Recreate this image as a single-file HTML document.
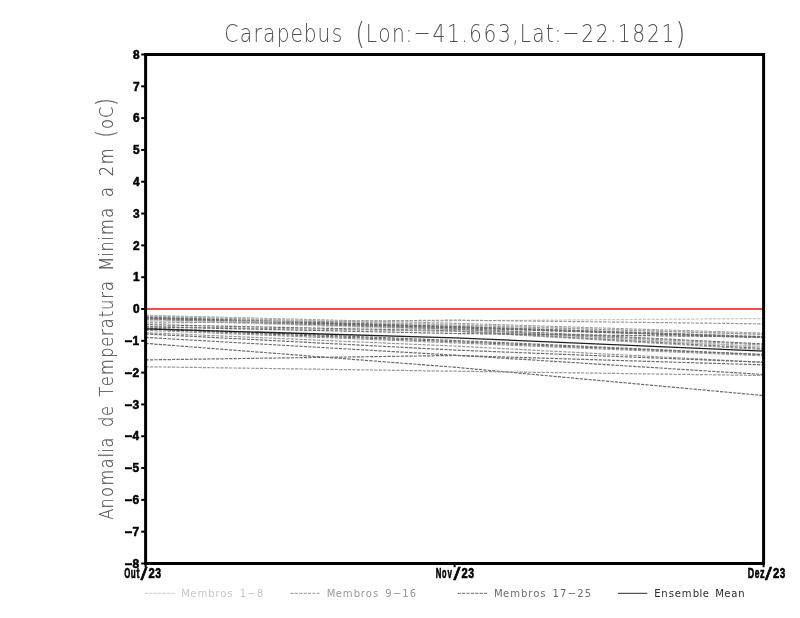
<!DOCTYPE html>
<html lang="pt"><head><meta charset="utf-8"><title>Carapebus</title>
<style>html,body{margin:0;padding:0;background:#fff;}svg{display:block;will-change:transform;}text{white-space:pre;}</style>
</head><body>
<svg width="800" height="618" viewBox="0 0 800 618">
<rect width="800" height="618" fill="#ffffff"/>
<g fill="none" stroke-width="1.2" stroke-dasharray="3.2 1.2">
<polyline stroke="#989898" points="145.6,315.36 454.6,323.32 763.6,333.18"/>
<polyline stroke="#c6c6c6" points="145.6,315.84 454.6,324.27 763.6,333.97"/>
<polyline stroke="#989898" points="145.6,316.32 454.6,325.22 763.6,334.45"/>
<polyline stroke="#c6c6c6" points="145.6,316.79 454.6,325.86 763.6,336.36"/>
<polyline stroke="#6c6c6c" points="145.6,317.27 454.6,326.50 763.6,336.80"/>
<polyline stroke="#6c6c6c" points="145.6,317.75 454.6,327.13 763.6,337.31"/>
<polyline stroke="#6c6c6c" points="145.6,318.23 454.6,327.77 763.6,337.63"/>
<polyline stroke="#6c6c6c" points="145.6,318.70 454.6,328.41 763.6,343.99"/>
<polyline stroke="#989898" points="145.6,319.18 454.6,329.04 763.6,344.95"/>
<polyline stroke="#6c6c6c" points="145.6,319.66 454.6,329.68 763.6,346.86"/>
<polyline stroke="#c6c6c6" points="145.6,320.13 454.6,330.31 763.6,346.86"/>
<polyline stroke="#c6c6c6" points="145.6,321.73 454.6,320.77 763.6,318.54"/>
<polyline stroke="#989898" points="145.6,323.00 454.6,320.13 763.6,323.86"/>
<polyline stroke="#6c6c6c" points="145.6,324.59 454.6,330.95 763.6,348.45"/>
<polyline stroke="#989898" points="145.6,326.50 454.6,331.27 763.6,349.59"/>
<polyline stroke="#6c6c6c" points="145.6,326.81 454.6,333.50 763.6,337.00"/>
<polyline stroke="#6c6c6c" points="145.6,328.09 454.6,340.49 763.6,354.49"/>
<polyline stroke="#6c6c6c" points="145.6,329.04 454.6,341.77 763.6,354.81"/>
<polyline stroke="#989898" points="145.6,330.31 454.6,342.88 763.6,355.76"/>
<polyline stroke="#989898" points="145.6,332.70 454.6,346.06 763.6,362.29"/>
<polyline stroke="#6c6c6c" points="145.6,333.97 454.6,350.04 763.6,362.29"/>
<polyline stroke="#6c6c6c" points="145.6,337.47 454.6,355.13 763.6,374.53"/>
<polyline stroke="#6c6c6c" points="145.6,343.36 454.6,367.22 763.6,395.53"/>
<polyline stroke="#6c6c6c" points="145.6,359.90 454.6,355.45 763.6,364.89"/>
<polyline stroke="#989898" points="145.6,366.74 454.6,371.19 763.6,375.49"/>
</g>
<polyline fill="none" stroke="#1e1e1e" stroke-width="1.3" points="145.6,328.88 454.6,337.79 763.6,351.15"/>
<line x1="145.6" y1="309.00" x2="763.6" y2="309.00" stroke="#f94a4a" stroke-width="1.95"/>
<rect x="145.6" y="54.5" width="618.0" height="509.0" fill="none" stroke="#000" stroke-width="3"/>
<g stroke="#000" stroke-width="2">
<line x1="141.2" y1="563.50" x2="145.6" y2="563.50"/>
<line x1="141.2" y1="531.69" x2="145.6" y2="531.69"/>
<line x1="141.2" y1="499.88" x2="145.6" y2="499.88"/>
<line x1="141.2" y1="468.06" x2="145.6" y2="468.06"/>
<line x1="141.2" y1="436.25" x2="145.6" y2="436.25"/>
<line x1="141.2" y1="404.44" x2="145.6" y2="404.44"/>
<line x1="141.2" y1="372.62" x2="145.6" y2="372.62"/>
<line x1="141.2" y1="340.81" x2="145.6" y2="340.81"/>
<line x1="141.2" y1="309.00" x2="145.6" y2="309.00"/>
<line x1="141.2" y1="277.19" x2="145.6" y2="277.19"/>
<line x1="141.2" y1="245.38" x2="145.6" y2="245.38"/>
<line x1="141.2" y1="213.56" x2="145.6" y2="213.56"/>
<line x1="141.2" y1="181.75" x2="145.6" y2="181.75"/>
<line x1="141.2" y1="149.94" x2="145.6" y2="149.94"/>
<line x1="141.2" y1="118.12" x2="145.6" y2="118.12"/>
<line x1="141.2" y1="86.31" x2="145.6" y2="86.31"/>
<line x1="141.2" y1="54.50" x2="145.6" y2="54.50"/>
<line x1="145.6" y1="563.5" x2="145.6" y2="567.2"/>
<line x1="454.6" y1="563.5" x2="454.6" y2="567.2"/>
<line x1="763.6" y1="563.5" x2="763.6" y2="567.2"/>
</g>
<g font-family='"Liberation Sans","DejaVu Sans",sans-serif' font-weight="700" font-size="11.9" fill="#000" stroke="#000" stroke-width="0.55" stroke-linejoin="round" text-anchor="middle">
<text x="128.6 135.9" y="567.70"><tspan textLength="8.0" lengthAdjust="spacingAndGlyphs">-</tspan>8</text>
<text x="128.6 135.9" y="535.89"><tspan textLength="8.0" lengthAdjust="spacingAndGlyphs">-</tspan>7</text>
<text x="128.6 135.9" y="504.07"><tspan textLength="8.0" lengthAdjust="spacingAndGlyphs">-</tspan>6</text>
<text x="128.6 135.9" y="472.26"><tspan textLength="8.0" lengthAdjust="spacingAndGlyphs">-</tspan>5</text>
<text x="128.6 135.9" y="440.45"><tspan textLength="8.0" lengthAdjust="spacingAndGlyphs">-</tspan>4</text>
<text x="128.6 135.9" y="408.64"><tspan textLength="8.0" lengthAdjust="spacingAndGlyphs">-</tspan>3</text>
<text x="128.6 135.9" y="376.82"><tspan textLength="8.0" lengthAdjust="spacingAndGlyphs">-</tspan>2</text>
<text x="128.6 135.9" y="345.01"><tspan textLength="8.0" lengthAdjust="spacingAndGlyphs">-</tspan>1</text>
<text x="136.2" y="313.20">0</text>
<text x="136.2" y="281.39">1</text>
<text x="136.2" y="249.57">2</text>
<text x="136.2" y="217.76">3</text>
<text x="136.2" y="185.95">4</text>
<text x="136.2" y="154.14">5</text>
<text x="136.2" y="122.33">6</text>
<text x="136.2" y="90.51">7</text>
<text x="136.2" y="58.70">8</text>
</g>
<text x="124.18 130.80 136.39 140.56 148.41 155.26" y="577.90 577.90 577.90 580.00 577.90 577.90" font-family='"Liberation Sans","DejaVu Sans",sans-serif' font-weight="700" font-size="14.00" fill="#000" stroke="#000" stroke-width="0.60" stroke-linejoin="round"><tspan textLength="6.05" lengthAdjust="spacingAndGlyphs">O</tspan><tspan textLength="4.93" lengthAdjust="spacingAndGlyphs">u</tspan><tspan textLength="2.91" lengthAdjust="spacingAndGlyphs">t</tspan><tspan font-size="19.00" font-weight="400" textLength="6.88" lengthAdjust="spacingAndGlyphs">/</tspan><tspan textLength="6.24" lengthAdjust="spacingAndGlyphs">2</tspan><tspan textLength="5.82" lengthAdjust="spacingAndGlyphs">3</tspan></text>
<text x="435.78 442.01 447.47 453.56 461.41 468.26" y="577.90 577.90 577.90 580.00 577.90 577.90" font-family='"Liberation Sans","DejaVu Sans",sans-serif' font-weight="700" font-size="14.00" fill="#000" stroke="#000" stroke-width="0.60" stroke-linejoin="round"><tspan textLength="5.65" lengthAdjust="spacingAndGlyphs">N</tspan><tspan textLength="4.47" lengthAdjust="spacingAndGlyphs">o</tspan><tspan textLength="4.47" lengthAdjust="spacingAndGlyphs">v</tspan><tspan font-size="19.00" font-weight="400" textLength="6.88" lengthAdjust="spacingAndGlyphs">/</tspan><tspan textLength="6.24" lengthAdjust="spacingAndGlyphs">2</tspan><tspan textLength="5.82" lengthAdjust="spacingAndGlyphs">3</tspan></text>
<text x="747.71 754.77 759.93 765.06 772.91 779.77" y="577.90 577.90 577.90 580.00 577.90 577.90" font-family='"Liberation Sans","DejaVu Sans",sans-serif' font-weight="700" font-size="14.00" fill="#000" stroke="#000" stroke-width="0.60" stroke-linejoin="round"><tspan textLength="6.36" lengthAdjust="spacingAndGlyphs">D</tspan><tspan textLength="4.72" lengthAdjust="spacingAndGlyphs">e</tspan><tspan textLength="4.60" lengthAdjust="spacingAndGlyphs">z</tspan><tspan font-size="19.00" font-weight="400" textLength="6.88" lengthAdjust="spacingAndGlyphs">/</tspan><tspan textLength="6.24" lengthAdjust="spacingAndGlyphs">2</tspan><tspan textLength="5.48" lengthAdjust="spacingAndGlyphs">3</tspan></text>
<text transform="translate(223.71 41.90) scale(0.8200 1)" x="9.34 27.13 41.37 55.60 72.51 88.96 105.42 122.32 138.34 153.02 166.36 180.15 196.16 213.07 225.97 241.98 262.44 280.23 293.58 306.92 324.72 342.51 355.85 367.86 383.88 397.67 407.45 423.47 443.93 461.72 475.06 488.41 506.20 523.99 541.79 556.91" y="0 0 0 0 0 0 0 0 0 0 1.95 0 0 0 0 -1.80 0 0 0 0 0 0 0 0 0 0 0 -1.80 0 0 0 0 0 0 0 1.95" text-anchor="middle" font-family='"DejaVu Sans Light","DejaVu Sans","Liberation Sans",sans-serif' font-weight="200" font-size="24.70" fill="#505050" >Carapebus <tspan font-size="30.75">(</tspan>Lon:<tspan textLength="21.67" lengthAdjust="spacingAndGlyphs">-</tspan>41.663,Lat:<tspan textLength="21.67" lengthAdjust="spacingAndGlyphs">-</tspan>22.1821<tspan font-size="30.75">)</tspan></text>
<text transform="translate(112.90 519.59) rotate(-90) scale(0.8450 1)" x="6.29 19.22 32.51 49.63 66.76 76.20 81.79 91.23 103.46 115.69 128.63 140.51 151.69 163.58 180.36 197.48 210.42 221.25 232.44 243.27 254.11 265.29 276.48 288.71 302.69 313.87 323.31 332.75 346.03 363.16 375.39 387.63 399.86 412.44 429.92 446.00 456.48 468.02 482.00 494.23" y="0 0 0 0 0 0 0 0 0 0 0 0 0 0 0 0 0 0 0 0 0 0 0 0 0 0 0 0 0 0 0 0 0 0 0 0 1.52 0 0 1.52" text-anchor="middle" font-family='"DejaVu Sans Light","DejaVu Sans","Liberation Sans",sans-serif' font-weight="200" font-size="19.20" fill="#505050" stroke="#505050" stroke-width="0.15">Anomalia de Temperatura Minima a 2m <tspan font-size="23.90">(</tspan>oC<tspan font-size="23.90">)</tspan></text>
<line x1="145.0" y1="593.3" x2="174.5" y2="593.3" stroke="#c6c6c6" stroke-width="1" stroke-dasharray="3.2 1.2"/>
<text transform="translate(181.11 596.50) scale(1.0500 1)" x="4.26 11.72 20.25 28.95 34.64 40.32 46.71 52.58 58.97 67.14 75.31" y="0 0 0 0 0 0 0 0 0 -0.70 0" text-anchor="middle" font-family='"DejaVu Sans","Liberation Sans",sans-serif' font-weight="400" font-size="9.60" fill="#c6c6c6" >Membros 1<tspan textLength="8.65" lengthAdjust="spacingAndGlyphs">-</tspan>8</text>
<line x1="290.4" y1="593.3" x2="319.6" y2="593.3" stroke="#989898" stroke-width="1" stroke-dasharray="3.2 1.2"/>
<text transform="translate(326.51 596.50) scale(1.0500 1)" x="4.26 11.72 20.25 28.95 34.64 40.32 46.71 52.58 58.97 67.14 75.31 82.42" y="0 0 0 0 0 0 0 0 0 -0.70 0 0" text-anchor="middle" font-family='"DejaVu Sans","Liberation Sans",sans-serif' font-weight="400" font-size="9.60" fill="#989898" >Membros 9<tspan textLength="8.65" lengthAdjust="spacingAndGlyphs">-</tspan>16</text>
<line x1="457.6" y1="593.3" x2="487.0" y2="593.3" stroke="#6c6c6c" stroke-width="1" stroke-dasharray="3.2 1.2"/>
<text transform="translate(493.91 596.50) scale(1.0500 1)" x="4.26 11.72 20.25 28.95 34.64 40.32 46.71 52.58 58.97 66.07 74.24 82.42 89.52" y="0 0 0 0 0 0 0 0 0 0 -0.70 0 0" text-anchor="middle" font-family='"DejaVu Sans","Liberation Sans",sans-serif' font-weight="400" font-size="9.60" fill="#6c6c6c" >Membros 17<tspan textLength="8.65" lengthAdjust="spacingAndGlyphs">-</tspan>25</text>
<line x1="618.0" y1="593.3" x2="647.4" y2="593.3" stroke="#2a2a2a" stroke-width="1"/>
<text transform="translate(653.91 596.50) scale(1.0500 1)" x="3.37 10.12 16.52 22.74 31.26 39.96 44.76 49.38 55.42 62.52 69.98 76.55 83.30" y="0 0 0 0 0 0 0 0 0 0 0 0 0" text-anchor="middle" font-family='"DejaVu Sans","Liberation Sans",sans-serif' font-weight="400" font-size="9.60" fill="#2a2a2a" >Ensemble Mean</text>
</svg>
</body></html>
